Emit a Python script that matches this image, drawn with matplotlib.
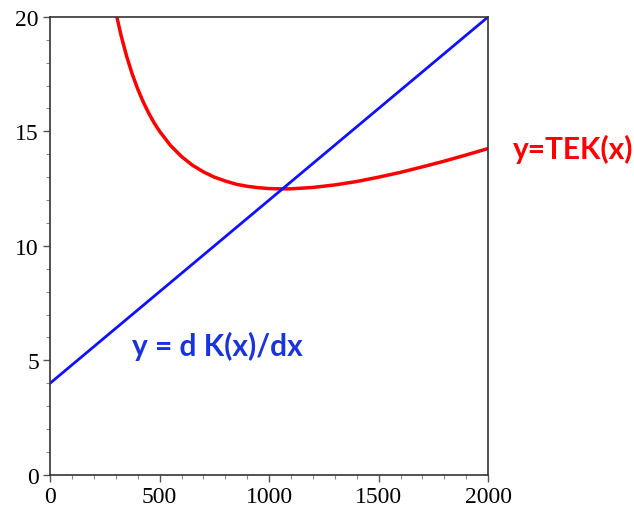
import matplotlib
matplotlib.use("Agg")
import matplotlib.pyplot as plt
from matplotlib.ticker import MultipleLocator

# red curve: y = TEK(x)
tek_x = [300, 325, 350, 375, 400, 425, 450, 475, 500, 550, 600, 650, 700, 750,
         800, 850, 900, 950, 1000, 1050, 1100, 1200, 1300, 1400, 1500, 1600,
         1700, 1800, 1900, 2000]
tek_y = [20.2, 19.15, 18.26, 17.5, 16.85, 16.29, 15.8, 15.37, 15.0, 14.38, 13.9,
         13.52, 13.23, 13.0, 12.83, 12.69, 12.6, 12.54, 12.5, 12.49, 12.49, 12.55,
         12.66, 12.81, 13.0, 13.21, 13.45, 13.7, 13.97, 14.25]

# blue line: y = dK(x)/dx
dk_x = [0, 2000]
dk_y = [4, 20]

fig = plt.figure(figsize=(6.34, 5.10), dpi=100)
ax = fig.add_axes([0.079, 0.067, 0.691, 0.898])

ax.plot(tek_x, tek_y, color="#ff0000", lw=2.5, solid_joinstyle="round")
ax.plot(dk_x, dk_y, color="#1010ff", lw=2.0)

ax.set_xlim(0, 2000)
ax.set_ylim(0, 20)
ax.xaxis.set_major_locator(MultipleLocator(500))
ax.xaxis.set_minor_locator(MultipleLocator(100))
ax.yaxis.set_major_locator(MultipleLocator(5))
ax.yaxis.set_minor_locator(MultipleLocator(1))
ax.tick_params(which="major", direction="out", length=5, width=1, color="#555555", pad=3)
ax.tick_params(which="minor", direction="out", length=3, width=0.8, color="#888888")
for lbl in ax.get_xticklabels() + ax.get_yticklabels():
    lbl.set_fontfamily("Liberation Serif")
    lbl.set_fontsize(17)
for s in ax.spines.values():
    s.set_color("#333333")
    s.set_linewidth(1.2)

fig.text(0.809, 0.706, "y=TEK(x)", color="#ff0000", fontsize=21.5, fontweight="bold",
         family=["Lato", "DejaVu Sans"], va="center", ha="left")
fig.text(0.208, 0.320, "y = d K(x)/dx", color="#1a33e0", fontsize=21.5, fontweight="bold",
         family=["Lato", "DejaVu Sans"], va="center", ha="left")

fig.savefig("out.png", dpi=100)
